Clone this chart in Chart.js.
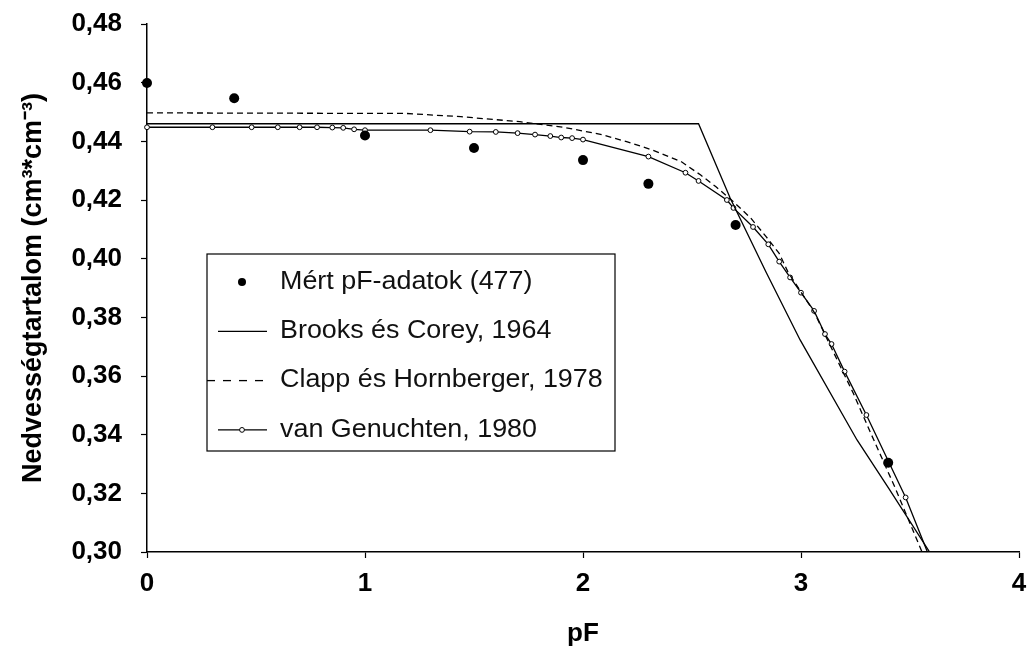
<!DOCTYPE html>
<html>
<head>
<meta charset="utf-8">
<script src="https://cdn.jsdelivr.net/npm/chart.js@4.4.0/dist/chart.umd.min.js"></script>
<style>
body { margin: 0; background: #fff; }
</style>
</head>
<body>
<canvas id="grafico" width="1029" height="652"></canvas>
<script>
// mért pF-adatok
var meresPF = [0, 0.4, 1, 1.5, 2, 2.3, 2.7, 3.4];
var meresTheta = [0.4599, 0.4547, 0.4420, 0.4377, 0.4336, 0.4255, 0.4115, 0.3304];

// Brooks és Corey
var bcPF = [0, 2.53, 2.675, 2.84, 2.996, 3.257, 3.404, 3.59];
var bcTheta = [0.4460, 0.4460, 0.4207, 0.3954, 0.3723, 0.3382, 0.3215, 0.3000];

// Clapp és Hornberger
var chPF = [0, 1.19, 1.44, 1.71, 1.91, 2.08, 2.20, 2.32, 2.45, 2.54, 2.61, 2.69, 2.77, 2.84, 2.90, 2.94, 3.06, 3.24, 3.32, 3.43, 3.555];
var chTheta = [0.4497, 0.4495, 0.4484, 0.4467, 0.4448, 0.4424, 0.4399, 0.4370, 0.4331, 0.4285, 0.4245, 0.4194, 0.4138, 0.4075, 0.4018, 0.3955, 0.3818, 0.3541, 0.3405, 0.3222, 0.3000];

// van Genuchten
var vgPF = [0, 0.30, 0.48, 0.60, 0.70, 0.78, 0.85, 0.90, 0.95, 1.00, 1.30, 1.48, 1.60, 1.70, 1.78, 1.85, 1.90, 1.95, 2.00,
    2.30, 2.47, 2.53, 2.66, 2.69, 2.78, 2.85, 2.90, 2.95, 3.00, 3.06, 3.11, 3.14, 3.20, 3.30, 3.48, 3.58];
var vgTheta = [0.4448, 0.4448, 0.4448, 0.4448, 0.4448, 0.4448, 0.4447, 0.4446, 0.4441, 0.4438, 0.4438, 0.4433, 0.4432, 0.4428, 0.4423, 0.4418, 0.4413, 0.4411, 0.4406,
    0.4348, 0.4293, 0.4265, 0.4200, 0.4173, 0.4108, 0.4049, 0.3990, 0.3936, 0.3884, 0.3822, 0.3743, 0.3709, 0.3615, 0.3467, 0.3186, 0.3000];

var xTicks = [0, 1, 2, 3, 4];
var yMin = 0.30, yMax = 0.48, yStep = 0.02;

function pontok(xs, ys) {
    return xs.map(function (x, i) { return { x: x, y: ys[i] }; });
}

var betu = '"Liberation Sans", Arial, sans-serif';

var data = {
    datasets: [{
        label: 'Mért pF-adatok (477)',
        data: pontok(meresPF, meresTheta),
        showLine: false,
        pointRadius: 5,
        pointBackgroundColor: '#000',
        pointBorderColor: '#000',
        pointBorderWidth: 0,
        clip: false
    },
    {
        label: 'Brooks és Corey, 1964',
        data: pontok(bcPF, bcTheta),
        showLine: true,
        borderColor: '#000',
        borderWidth: 1.3,
        pointRadius: 0
    },
    {
        label: 'Clapp és Hornberger, 1978',
        data: pontok(chPF, chTheta),
        showLine: true,
        borderColor: '#000',
        borderWidth: 1.3,
        borderDash: [6, 4],
        pointRadius: 0
    },
    {
        label: 'van Genuchten, 1980',
        data: pontok(vgPF, vgTheta),
        showLine: true,
        borderColor: '#000',
        borderWidth: 1.3,
        pointRadius: function (c) { return c.dataIndex === vgPF.length - 1 ? 0 : 2.4; },
        pointBackgroundColor: '#fff',
        pointBorderColor: '#000',
        pointBorderWidth: 1,
        clip: false
    }]
};

// jelmagyarázat a rajzterületen belül
var jelmagyarazat = {
    id: 'jelmagyarazat',
    afterDraw: function (chart) {
        var ctx = chart.ctx;
        var x0 = 207, y0 = 254, w = 408, h = 197;
        ctx.save();
        ctx.fillStyle = '#fff';
        ctx.fillRect(x0, y0, w, h);
        ctx.strokeStyle = '#000';
        ctx.lineWidth = 1.2;
        ctx.strokeRect(x0, y0, w, h);
        ctx.font = '25px ' + betu;
        ctx.textBaseline = 'middle';
        chart.data.datasets.forEach(function (ds, i) {
            var y = 282 + i * 49.3;
            ctx.strokeStyle = '#000';
            ctx.lineWidth = 1.3;
            if (i === 0) {
                ctx.beginPath();
                ctx.arc(242, y, 4, 0, Math.PI * 2);
                ctx.fillStyle = '#000';
                ctx.fill();
            } else {
                ctx.setLineDash(i === 2 ? [8, 8] : []);
                ctx.beginPath();
                ctx.moveTo(i === 2 ? 207 : 218, y);
                ctx.lineTo(267, y);
                ctx.stroke();
                ctx.setLineDash([]);
                if (i === 3) {
                    ctx.beginPath();
                    ctx.arc(242, y, 2.4, 0, Math.PI * 2);
                    ctx.fillStyle = '#fff';
                    ctx.fill();
                    ctx.lineWidth = 1;
                    ctx.stroke();
                }
            }
            ctx.save();
            ctx.translate(280, y);
            ctx.scale(1.075, 1);
            ctx.fillStyle = '#111';
            ctx.fillText(ds.label, 0, 0);
            ctx.restore();
        });
        ctx.restore();
    }
};

var options = {
    responsive: false,
    animation: false,
    layout: { padding: { left: 0, right: 10, top: 24, bottom: 0 } },
    plugins: { legend: { display: false }, tooltip: { enabled: false } },
    scales: {
        x: {
            type: 'linear',
            min: xTicks[0],
            max: xTicks[xTicks.length - 1],
            border: { color: '#000', width: 1.5 },
            grid: { drawOnChartArea: false, color: '#000', tickLength: 6, tickWidth: 1.2 },
            afterBuildTicks: function (s) { s.ticks = xTicks.map(function (v) { return { value: v }; }); },
            ticks: {
                color: '#000',
                padding: 10,
                maxRotation: 0,
                font: { family: betu, size: 26, weight: 'bold' }
            },
            title: {
                display: true,
                text: 'pF',
                color: '#000',
                font: { family: betu, size: 26, weight: 'bold' },
                padding: { top: 0, bottom: 3 }
            },
            afterFit: function (s) { s.height = 100; s.paddingLeft = 0; s.paddingRight = 0; }
        },
        y: {
            type: 'linear',
            min: yMin,
            max: yMax,
            border: { color: '#000', width: 1.5 },
            grid: { drawOnChartArea: false, color: '#000', tickLength: 6, tickWidth: 1.2 },
            ticks: {
                stepSize: yStep,
                color: '#000',
                padding: 19,
                font: { family: betu, size: 26, weight: 'bold' },
                callback: function (v) { return v.toFixed(2).replace('.', ','); }
            },
            title: {
                display: true,
                text: 'Nedvességtartalom (cm³*cm⁻³)',
                color: '#000',
                font: { family: betu, size: 27, weight: 'bold' },
                padding: { top: 17, bottom: 0 }
            },
            afterFit: function (s) { s.width = 147; s.paddingTop = 0; s.paddingBottom = 0; }
        }
    }
};

var ctx = document.querySelector('#grafico').getContext('2d');
var grafikon = new Chart(ctx, {
    type: 'scatter',
    data: data,
    options: options,
    plugins: [jelmagyarazat]
});
</script>
</body>
</html>
